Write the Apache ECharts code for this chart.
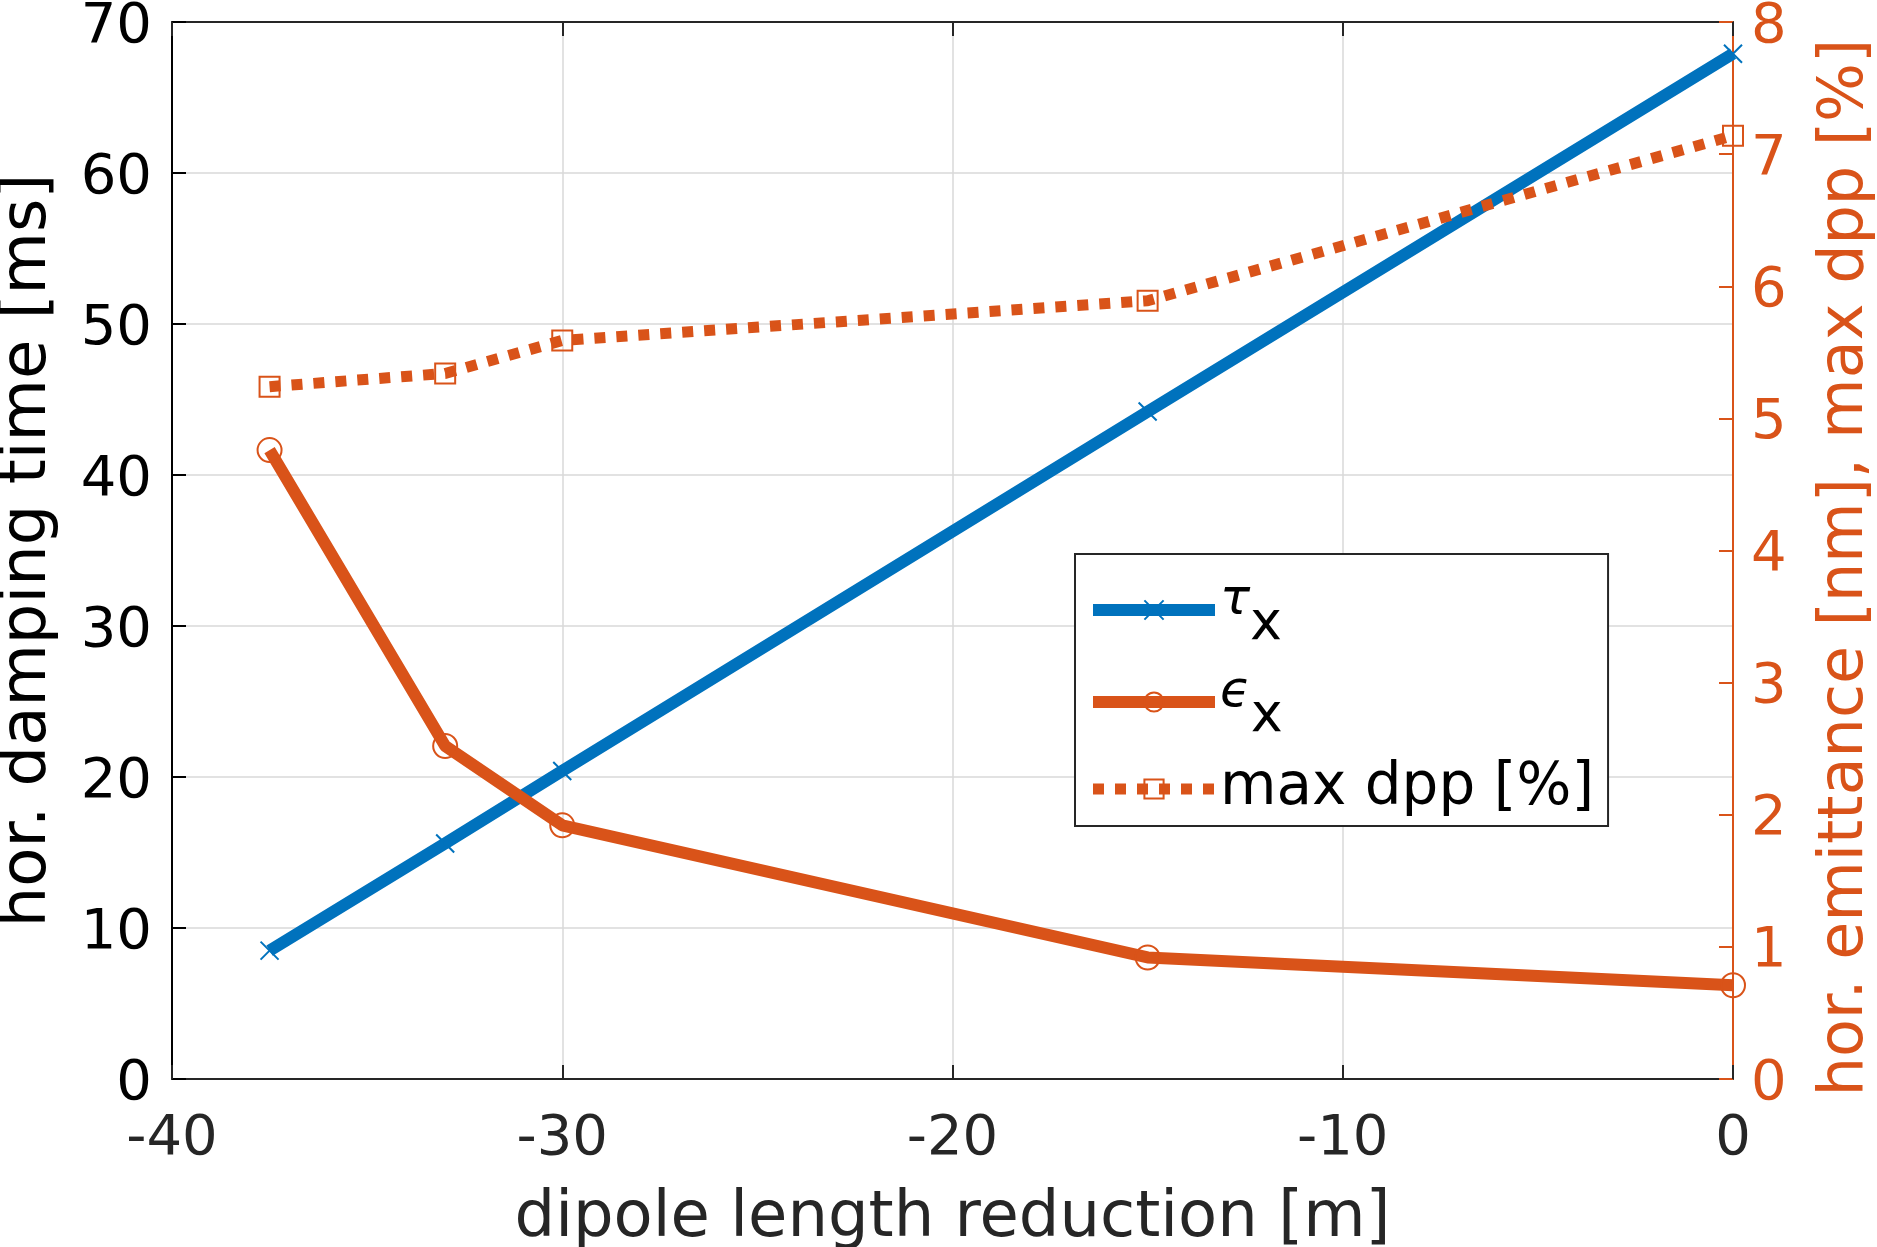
<!DOCTYPE html>
<html>
<head>
<meta charset="utf-8">
<script src="https://cdn.jsdelivr.net/npm/echarts@6/dist/echarts.min.js"></script>
<style>
  html, body { margin: 0; padding: 0; background: #fff; }
  #main { width: 1877px; height: 1247px; }
</style>
</head>
<body>
<div id="main"></div>
<script>
// dipole length reduction [m]
var dipoleReduction = [-37.5, -33, -30, -15, 0];
// hor. damping time [ms]
var tauX = [8.5, 15.6, 20.4, 44.2, 67.9];
// hor. emittance [nm]
var epsX = [4.76, 2.52, 1.92, 0.92, 0.71];
// max dpp [%]
var maxDpp = [5.24, 5.34, 5.59, 5.89, 7.14];

var xTicks = { min: -40, max: 0, interval: 10 };
var leftTicks = { min: 0, max: 70, interval: 10 };
var rightTicks = { min: 0, max: 8, interval: 1 };

var BLUE = '#0072BD';
var ORANGE = '#D95319';
var DARK = '#262626';
var FONT = 'DejaVu Sans';
var TICK_SIZE = 56;
var NAME_SIZE = 64;

function pairs(ys) {
  var res = [];
  for (var i = 0; i < dipoleReduction.length; i++) {
    res.push([dipoleReduction[i], ys[i]]);
  }
  return res;
}

// y tick labels sit a little low in the original, push them down a few px
function yLabel(color) {
  return {
    color: color,
    margin: 20,
    formatter: '{v|{value}}',
    rich: {
      v: { fontSize: TICK_SIZE, color: color, fontFamily: FONT, padding: [10, 0, 0, 0] }
    }
  };
}

var chart = echarts.init(document.getElementById('main'));

var option = {
  animation: false,
  backgroundColor: '#fff',
  textStyle: { fontFamily: FONT },
  grid: {
    left: 172,
    right: 144,
    top: 22,
    bottom: 168,
    outerBoundsMode: 'none',
    containLabel: false
  },
  legend: {
    left: 1075,
    top: 554,
    orient: 'vertical',
    itemWidth: 122,
    itemHeight: 24,
    itemGap: 16,
    padding: [22, 14, 8, 12],
    borderColor: DARK,
    borderWidth: 2,
    backgroundColor: '#fff',
    data: [
      { name: 'tau', lineStyle: { width: 12 } },
      { name: 'eps', lineStyle: { width: 12 } },
      { name: 'dpp', lineStyle: { width: 11 } }
    ],
    formatter: function (name) {
      if (name === 'tau') return '{g|τ}{s|x}';
      if (name === 'eps') return '{g|ϵ}{s|x}';
      return '{n|max dpp [%]}';
    },
    textStyle: {
      color: '#000',
      fontFamily: FONT,
      rich: {
        g: { fontSize: 50, fontStyle: 'italic', fontFamily: FONT, padding: [0, 0, 18, 0] },
        s: { fontSize: 54, fontFamily: FONT, padding: [30, 0, 0, 0] },
        n: { fontSize: 58, fontFamily: FONT }
      }
    }
  },
  xAxis: [
    {
      type: 'value',
      min: xTicks.min,
      max: xTicks.max,
      interval: xTicks.interval,
      name: 'dipole length reduction [m]',
      nameLocation: 'middle',
      nameGap: 108,
      nameTextStyle: { fontSize: NAME_SIZE, color: DARK, fontFamily: FONT },
      axisLine: { show: true, onZero: false, lineStyle: { color: DARK, width: 2 } },
      axisTick: { show: true, inside: true, length: 14, lineStyle: { color: DARK, width: 2 } },
      axisLabel: { fontSize: TICK_SIZE, color: DARK, margin: 32, fontFamily: FONT },
      splitLine: { show: true, lineStyle: { color: '#d9d9d9', width: 1.5 } }
    },
    {
      type: 'value',
      position: 'top',
      min: xTicks.min,
      max: xTicks.max,
      interval: xTicks.interval,
      axisLine: { show: true, onZero: false, lineStyle: { color: DARK, width: 2 } },
      axisTick: { show: true, inside: true, length: 14, lineStyle: { color: DARK, width: 2 } },
      axisLabel: { show: false },
      splitLine: { show: false }
    }
  ],
  yAxis: [
    {
      type: 'value',
      position: 'left',
      min: leftTicks.min,
      max: leftTicks.max,
      interval: leftTicks.interval,
      name: 'hor. damping time [ms]',
      nameLocation: 'middle',
      nameGap: 112,
      nameTextStyle: { fontSize: NAME_SIZE, color: '#000', fontFamily: FONT },
      axisLine: { show: true, onZero: false, lineStyle: { color: '#000', width: 2 } },
      axisTick: { show: true, inside: true, length: 14, lineStyle: { color: '#000', width: 2 } },
      axisLabel: yLabel('#000'),
      splitLine: { show: true, lineStyle: { color: '#d9d9d9', width: 1.5 } }
    },
    {
      type: 'value',
      position: 'right',
      min: rightTicks.min,
      max: rightTicks.max,
      interval: rightTicks.interval,
      name: 'hor. emittance [nm], max dpp [%]',
      nameLocation: 'middle',
      nameGap: 82,
      nameTextStyle: { fontSize: 62, color: ORANGE, fontFamily: FONT, padding: [0, 34, 0, 0] },
      axisLine: { show: true, onZero: false, lineStyle: { color: ORANGE, width: 2 } },
      axisTick: { show: true, inside: true, length: 14, lineStyle: { color: ORANGE, width: 2 } },
      axisLabel: Object.assign(yLabel(ORANGE), { margin: 18 }),
      splitLine: { show: false }
    }
  ],
  series: [
    {
      name: 'tau',
      type: 'line',
      xAxisIndex: 0,
      yAxisIndex: 0,
      data: pairs(tauX),
      symbol: 'path://M0,0L10,10M10,0L0,10',
      symbolSize: 18,
      lineStyle: { color: BLUE, width: 12 },
      itemStyle: { color: 'none', borderColor: BLUE, borderWidth: 2 },
      z: 3
    },
    {
      name: 'eps',
      type: 'line',
      xAxisIndex: 0,
      yAxisIndex: 1,
      data: pairs(epsX),
      symbol: 'circle',
      symbolSize: 24,
      lineStyle: { color: ORANGE, width: 12 },
      itemStyle: { color: 'none', borderColor: ORANGE, borderWidth: 2 },
      z: 3
    },
    {
      name: 'dpp',
      type: 'line',
      xAxisIndex: 0,
      yAxisIndex: 1,
      data: pairs(maxDpp),
      symbol: 'rect',
      symbolSize: 20,
      lineStyle: { color: ORANGE, width: 11, type: [11, 11], cap: 'butt' },
      itemStyle: { color: 'none', borderColor: ORANGE, borderWidth: 2 },
      z: 3
    }
  ]
};

chart.setOption(option);
</script>
</body>
</html>
